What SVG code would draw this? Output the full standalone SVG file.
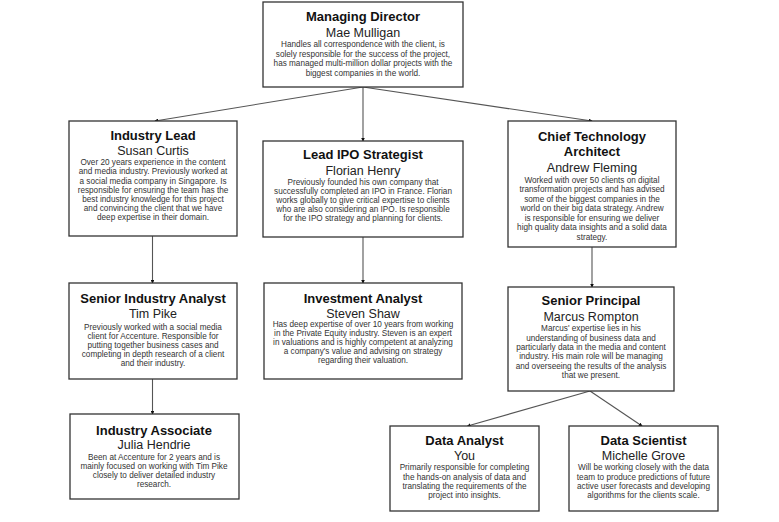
<svg xmlns="http://www.w3.org/2000/svg" width="779" height="522" viewBox="0 0 779 522">
<style>
.box{fill:#fff;stroke:#333;stroke-width:1.3}
.t{font-family:"Liberation Sans",Arial,sans-serif;font-weight:bold;font-size:13px;fill:#111;text-anchor:middle}
.n{font-family:"Liberation Sans",Arial,sans-serif;font-size:12.5px;fill:#222;text-anchor:middle}
.d{font-family:"Liberation Sans",Arial,sans-serif;font-size:8.2px;fill:#333;text-anchor:middle}
.c{stroke:#555;stroke-width:1.1;fill:none;marker-end:url(#ah)}
</style>
<defs>
<marker id="ah" viewBox="0 0 6 6" refX="5" refY="3" markerWidth="3.5" markerHeight="3.5" orient="auto" markerUnits="strokeWidth">
<path d="M0,0 L6,3 L0,6 z" fill="#111"/>
</marker>
</defs>
<rect width="779" height="522" fill="#fff"/>
<g id="connectors">
<line class="c" x1="363" y1="87" x2="155" y2="121"/>
<line class="c" x1="363" y1="87" x2="363" y2="141"/>
<line class="c" x1="363" y1="87" x2="592" y2="121"/>
<line class="c" x1="152.5" y1="236" x2="152.5" y2="283"/>
<line class="c" x1="152.5" y1="379" x2="152.5" y2="414"/>
<line class="c" x1="363" y1="237" x2="363" y2="283"/>
<line class="c" x1="592" y1="247" x2="592" y2="287"/>
<line class="c" x1="590" y1="391" x2="467.5" y2="426"/>
<line class="c" x1="590" y1="391" x2="642" y2="426"/>
</g>
<g id="managing-director">
<rect class="box" x="263" y="2" width="200" height="85"/>
<text class="t" x="363" y="21.4">Managing Director</text>
<text class="n" x="363" y="36.8">Mae Mulligan</text>
<text class="d" x="363" y="47.3">Handles all correspondence with the client, is</text>
<text class="d" x="363" y="56.8">solely responsible for the success of the project,</text>
<text class="d" x="363" y="66.3">has managed multi-million dollar projects with the</text>
<text class="d" x="363" y="75.8">biggest companies in the world.</text>
</g>
<g id="industry-lead">
<rect class="box" x="69" y="121" width="168" height="115"/>
<text class="t" x="153" y="140">Industry Lead</text>
<text class="n" x="153" y="155">Susan Curtis</text>
<text class="d" x="153" y="165.3">Over 20 years experience in the content</text>
<text class="d" x="153" y="174.4">and media industry. Previously worked at</text>
<text class="d" x="153" y="183.5">a social media company in Singapore. Is</text>
<text class="d" x="153" y="192.6">responsible for ensuring the team has the</text>
<text class="d" x="153" y="201.7">best industry knowledge for this project</text>
<text class="d" x="153" y="210.8">and convincing the client that we have</text>
<text class="d" x="153" y="219.9">deep expertise in their domain.</text>
</g>
<g id="lead-ipo-strategist">
<rect class="box" x="263" y="141" width="200" height="96"/>
<text class="t" x="363" y="159.4">Lead IPO Strategist</text>
<text class="n" x="363" y="174.8">Florian Henry</text>
<text class="d" x="363" y="185.3">Previously founded his own company that</text>
<text class="d" x="363" y="194.3">successfully completed an IPO in France. Florian</text>
<text class="d" x="363" y="203.3">works globally to give critical expertise to clients</text>
<text class="d" x="363" y="212.3">who are also considering an IPO. Is responsible</text>
<text class="d" x="363" y="221.3">for the IPO strategy and planning for clients.</text>
</g>
<g id="chief-technology-architect">
<rect class="box" x="508" y="121" width="168" height="126"/>
<text class="t" x="592" y="141">Chief Technology</text>
<text class="t" x="592" y="156">Architect</text>
<text class="n" x="592" y="171.5">Andrew Fleming</text>
<text class="d" x="592" y="182.7">Worked with over 50 clients on digital</text>
<text class="d" x="592" y="192.2">transformation projects and has advised</text>
<text class="d" x="592" y="201.7">some of the biggest companies in the</text>
<text class="d" x="592" y="211.2">world on their big data strategy. Andrew</text>
<text class="d" x="592" y="220.7">is responsible for ensuring we deliver</text>
<text class="d" x="592" y="230.2">high quality data insights and a solid data</text>
<text class="d" x="592" y="239.7">strategy.</text>
</g>
<g id="senior-industry-analyst">
<rect class="box" x="69" y="283" width="168" height="96"/>
<text class="t" x="153" y="303">Senior Industry Analyst</text>
<text class="n" x="153" y="317.8">Tim Pike</text>
<text class="d" x="153" y="329.7">Previously worked with a social media</text>
<text class="d" x="153" y="338.8">client for Accenture. Responsible for</text>
<text class="d" x="153" y="347.9">putting together business cases and</text>
<text class="d" x="153" y="357">completing in depth research of a client</text>
<text class="d" x="153" y="366.1">and their industry.</text>
</g>
<g id="investment-analyst">
<rect class="box" x="264" y="283" width="198" height="96"/>
<text class="t" x="363" y="303">Investment Analyst</text>
<text class="n" x="363" y="317.8">Steven Shaw</text>
<text class="d" x="363" y="327.3">Has deep expertise of over 10 years from working</text>
<text class="d" x="363" y="336.3">in the Private Equity industry. Steven is an expert</text>
<text class="d" x="363" y="345.3">in valuations and is highly competent at analyzing</text>
<text class="d" x="363" y="354.3">a company's value and advising on strategy</text>
<text class="d" x="363" y="363.3">regarding their valuation.</text>
</g>
<g id="senior-principal">
<rect class="box" x="508" y="287" width="166" height="104"/>
<text class="t" x="591" y="305.4">Senior Principal</text>
<text class="n" x="591" y="321.2">Marcus Rompton</text>
<text class="d" x="591" y="331.3">Marcus' expertise lies in his</text>
<text class="d" x="591" y="340.6">understanding of business data and</text>
<text class="d" x="591" y="349.9">particularly data in the media and content</text>
<text class="d" x="591" y="359.2">industry. His main role will be managing</text>
<text class="d" x="591" y="368.5">and overseeing the results of the analysis</text>
<text class="d" x="591" y="377.8">that we present.</text>
</g>
<g id="industry-associate">
<rect class="box" x="70" y="414" width="169" height="85"/>
<text class="t" x="154" y="434.7">Industry Associate</text>
<text class="n" x="154" y="448.8">Julia Hendrie</text>
<text class="d" x="154" y="459.7">Been at Accenture for 2 years and is</text>
<text class="d" x="154" y="468.8">mainly focused on working with Tim Pike</text>
<text class="d" x="154" y="477.9">closely to deliver detailed industry</text>
<text class="d" x="154" y="487">research.</text>
</g>
<g id="data-analyst">
<rect class="box" x="390" y="426" width="149" height="85"/>
<text class="t" x="464.5" y="445.4">Data Analyst</text>
<text class="n" x="464.5" y="459.5">You</text>
<text class="d" x="464.5" y="470.3">Primarily responsible for completing</text>
<text class="d" x="464.5" y="479.6">the hands-on analysis of data and</text>
<text class="d" x="464.5" y="488.9">translating the requirements of the</text>
<text class="d" x="464.5" y="498.2">project into insights.</text>
</g>
<g id="data-scientist">
<rect class="box" x="569" y="426" width="149" height="85"/>
<text class="t" x="643.5" y="445.4">Data Scientist</text>
<text class="n" x="643.5" y="459.5">Michelle Grove</text>
<text class="d" x="643.5" y="470.3">Will be working closely with the data</text>
<text class="d" x="643.5" y="479.6">team to produce predictions of future</text>
<text class="d" x="643.5" y="488.9">active user forecasts and developing</text>
<text class="d" x="643.5" y="498.2">algorithms for the clients scale.</text>
</g>
</svg>
